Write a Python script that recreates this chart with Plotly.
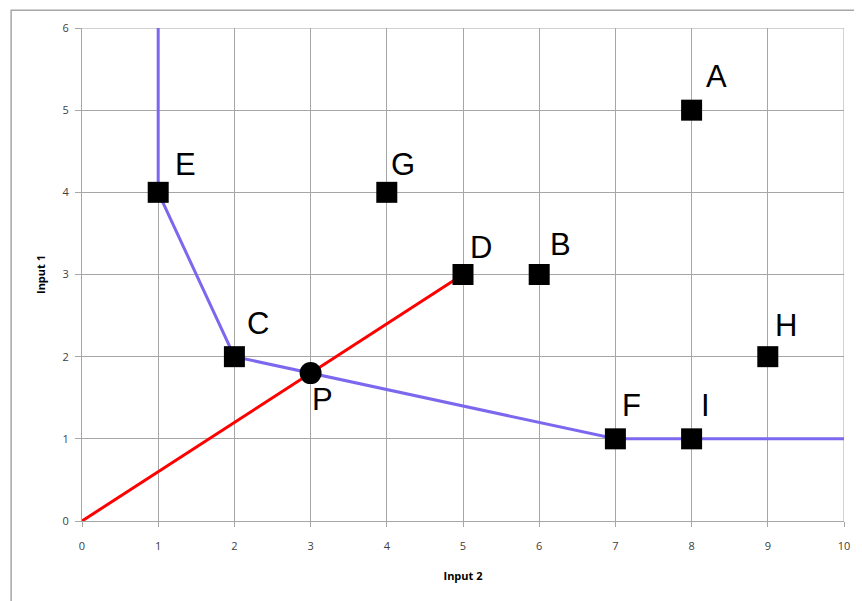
import plotly.graph_objects as go

# labelled production plans (input 2 on x, input 1 on y)
point_names = ["A", "B", "C", "D", "E", "F", "G", "H", "I"]
input2 = [8, 6, 2, 5, 1, 7, 4, 9, 8]
input1 = [5, 3, 2, 3, 4, 1, 4, 2, 1]

# efficient frontier (isoquant) through E, C, F
frontier_x = [1, 1, 2, 7, 10]
frontier_y = [6, 4, 2, 1, 1]

# ray from origin through D
ray_x = [0, 5]
ray_y = [0, 3]

# projection of D onto the frontier
p_name = "P"
p_x = [3]
p_y = [1.8]

# label offsets in pixels (style only)
LABEL_SHIFT = {
    "A": (25, 34), "B": (21, 30), "C": (24, 33), "D": (18, 27), "E": (27, 28),
    "F": (16, 33), "G": (16, 28), "H": (18, 31), "I": (14, 33), "P": (12, -26),
}

GRID = "#a6a6a6"
FONT = "Open Sans, Liberation Sans, sans-serif"
TICK_FONT = dict(family=FONT, size=11, color="#404040")

fig = go.Figure()
fig.add_trace(go.Scatter(x=frontier_x, y=frontier_y, mode="lines",
                         line=dict(color="#7b68ee", width=3), hoverinfo="skip"))
fig.add_trace(go.Scatter(x=ray_x, y=ray_y, mode="lines",
                         line=dict(color="#ff0000", width=3), hoverinfo="skip"))
fig.add_trace(go.Scatter(x=input2, y=input1, mode="markers",
                         marker=dict(symbol="square", size=21, color="black"),
                         text=point_names))
fig.add_trace(go.Scatter(x=p_x, y=p_y, mode="markers",
                         marker=dict(symbol="circle", size=22, color="black")))

label_font = dict(family="Liberation Sans, Arial, sans-serif", size=31, color="black")
for name, xv, yv in zip(point_names + [p_name], input2 + p_x, input1 + p_y):
    dx, dy = LABEL_SHIFT[name]
    fig.add_annotation(x=xv, y=yv, text=name, showarrow=False, font=label_font,
                       xanchor="center", yanchor="middle", xshift=dx, yshift=dy)

# outer chart-area border (Excel style)
fig.add_shape(type="rect", xref="paper", yref="paper",
              x0=-0.093, x1=1.2, y0=-0.3, y1=1.036,
              line=dict(color="#a6a6a6", width=1.5), layer="below")
# right and top plot border
fig.add_shape(type="line", xref="x", yref="paper", x0=10, x1=10, y0=0, y1=1,
              line=dict(color=GRID, width=1), layer="below")
fig.add_shape(type="line", xref="paper", yref="y", x0=0, x1=1, y0=6, y1=6,
              line=dict(color=GRID, width=1), layer="below")

# page body has an 8px margin, so the figure is drawn 8px smaller
fig.update_layout(
    width=854, height=593,
    margin=dict(l=74, r=14, t=18, b=80),
    paper_bgcolor="white", plot_bgcolor="white",
    showlegend=False,
    xaxis=dict(range=[0, 10], dtick=1, showgrid=True, gridcolor=GRID, gridwidth=1,
               showline=True, linecolor=GRID, linewidth=1,
               ticks="outside", ticklen=5, tickcolor=GRID, tickfont=TICK_FONT,
               ticklabelstandoff=10, zeroline=False, fixedrange=True,
               title=dict(text="<b>Input 2</b>", font=dict(family=FONT, size=11, color="black"),
                          standoff=20)),
    yaxis=dict(range=[0, 6], dtick=1, showgrid=True, gridcolor=GRID, gridwidth=1,
               showline=True, linecolor=GRID, linewidth=1,
               ticks="outside", ticklen=6, tickcolor=GRID, tickfont=TICK_FONT,
               ticklabelstandoff=4, zeroline=False, fixedrange=True,
               title=dict(text="<b>Input 1</b>", font=dict(family=FONT, size=11, color="black"),
                          standoff=14)),
)

fig.write_html("out.html")
